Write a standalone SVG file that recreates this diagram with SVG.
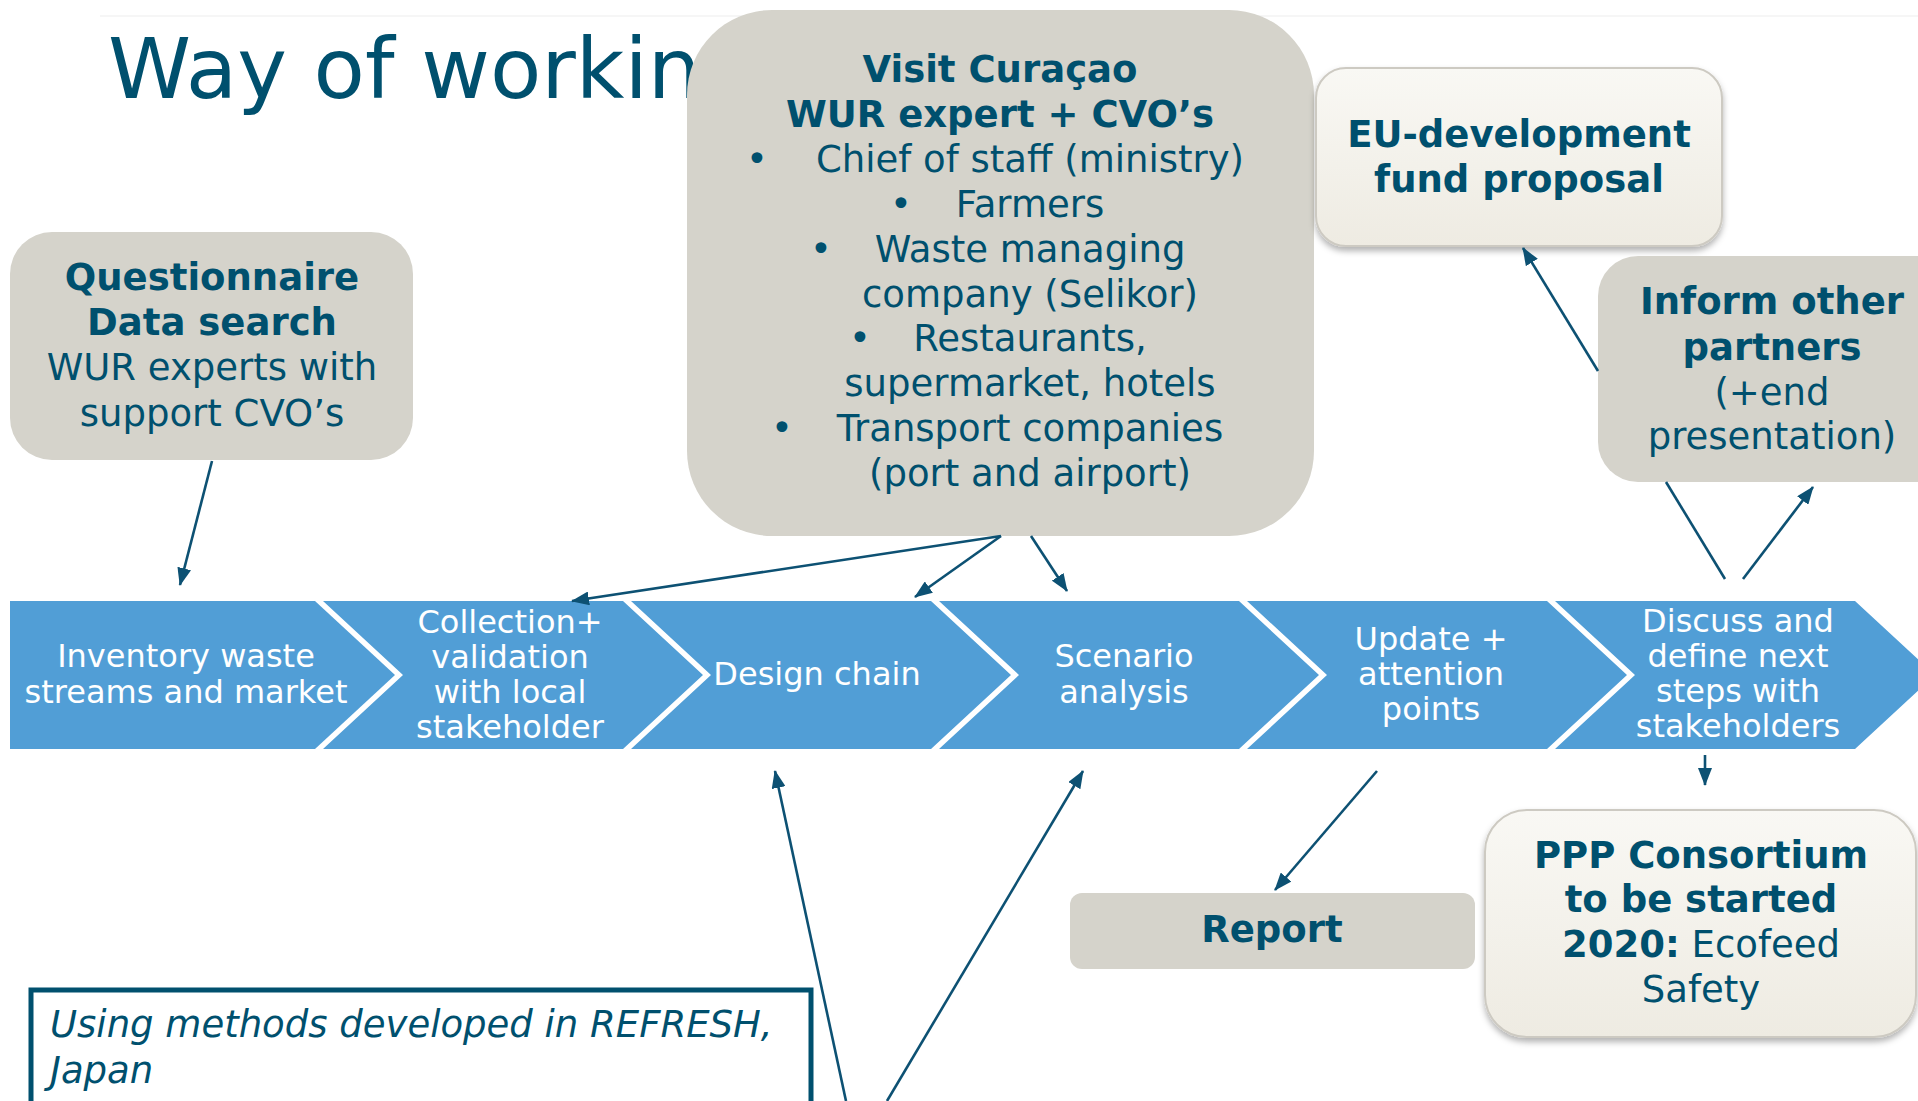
<svg xmlns="http://www.w3.org/2000/svg" width="1918" height="1101" viewBox="0 0 1918 1101">
<style>
  text { font-family: "DejaVu Sans", Verdana, sans-serif; fill: #00506e; }
  .b { font-weight: bold; }
  .t37 { font-size: 37px; }
  .mid { text-anchor: middle; }
  .chev { fill: #519ed6; }
  .ct { font-size: 32px; fill: #ffffff; text-anchor: middle; }
  .gray { fill: #d5d3cb; }
  .cream { fill: url(#cream); stroke: #cdcac2; stroke-width: 2; filter: url(#shadow); }
  .conn { stroke: #0d5173; stroke-width: 2.6; fill: none; }
  .arr { marker-end: url(#ah); }
</style>
<defs>
  <linearGradient id="cream" x1="0" y1="0" x2="0" y2="1">
    <stop offset="0" stop-color="#f9f8f4"/>
    <stop offset="1" stop-color="#eeebe2"/>
  </linearGradient>
  <filter id="shadow" x="-10%" y="-10%" width="120%" height="130%">
    <feDropShadow dx="0" dy="4" stdDeviation="3" flood-color="#000000" flood-opacity="0.3"/>
  </filter>
  <marker id="ah" markerUnits="userSpaceOnUse" markerWidth="18" markerHeight="14" refX="17" refY="7" orient="auto">
    <path d="M0,0 L18,7 L0,14 z" fill="#0d5173"/>
  </marker>
</defs>
<rect width="1918" height="1101" fill="#ffffff"/>
<line x1="100" y1="16" x2="1918" y2="16" stroke="#f3f3f3" stroke-width="1.5"/>
<text x="108" y="98" style="font-size:84px">Way of working</text>

<g id="questionnaire">
  <rect class="gray" x="10" y="232" width="403" height="228" rx="42"/>
  <text class="b t37 mid" x="212" y="290">Questionnaire</text>
  <text class="b t37 mid" x="212" y="335">Data search</text>
  <text class="t37 mid" x="212" y="380">WUR experts with</text>
  <text class="t37 mid" x="212" y="426">support CVO’s</text>
</g>

<g id="visit">
  <rect class="gray" x="687" y="10" width="627" height="526" rx="85"/>
  <text class="b t37 mid" x="1000" y="82">Visit Curaçao</text>
  <text class="b t37 mid" x="1000" y="127">WUR expert + CVO’s</text>
  <text class="t37 mid" x="757" y="172">•</text>
  <text class="t37 mid" x="1030" y="172">Chief of staff (ministry)</text>
  <text class="t37 mid" x="901" y="217">•</text>
  <text class="t37 mid" x="1030" y="217">Farmers</text>
  <text class="t37 mid" x="821" y="262">•</text>
  <text class="t37 mid" x="1030" y="262">Waste managing</text>
  <text class="t37 mid" x="1030" y="307">company (Selikor)</text>
  <text class="t37 mid" x="860" y="351">•</text>
  <text class="t37 mid" x="1030" y="351">Restaurants,</text>
  <text class="t37 mid" x="1030" y="396">supermarket, hotels</text>
  <text class="t37 mid" x="782" y="441">•</text>
  <text class="t37 mid" x="1030" y="441">Transport companies</text>
  <text class="t37 mid" x="1030" y="486">(port and airport)</text>
</g>

<g id="eu-fund">
  <rect class="cream" x="1316" y="68" width="406" height="178" rx="30"/>
  <text class="b t37 mid" x="1519" y="147">EU-development</text>
  <text class="b t37 mid" x="1519" y="192">fund proposal</text>
</g>

<g id="inform">
  <rect class="gray" x="1598" y="256" width="400" height="226" rx="40"/>
  <text class="b t37 mid" x="1772" y="314">Inform other</text>
  <text class="b t37 mid" x="1772" y="360">partners</text>
  <text class="t37 mid" x="1772" y="405">(+end</text>
  <text class="t37 mid" x="1772" y="449">presentation)</text>
</g>

<g id="step1">
  <polygon class="chev" points="10,601 315,601 395,675 315,749 10,749"/>
  <text class="ct" x="186" y="667">Inventory waste</text>
  <text class="ct" x="186" y="703">streams and market</text>
</g>
<g id="step2">
  <polygon class="chev" points="323,601 623,601 703,675 623,749 323,749 403,675"/>
  <text class="ct" x="510" y="633">Collection+</text>
  <text class="ct" x="510" y="668">validation</text>
  <text class="ct" x="510" y="703">with local</text>
  <text class="ct" x="510" y="738">stakeholder</text>
</g>
<g id="step3">
  <polygon class="chev" points="631,601 931,601 1011,675 931,749 631,749 711,675"/>
  <text class="ct" x="817" y="685">Design chain</text>
</g>
<g id="step4">
  <polygon class="chev" points="939,601 1239,601 1319,675 1239,749 939,749 1019,675"/>
  <text class="ct" x="1124" y="667">Scenario</text>
  <text class="ct" x="1124" y="703">analysis</text>
</g>
<g id="step5">
  <polygon class="chev" points="1247,601 1547,601 1627,675 1547,749 1247,749 1327,675"/>
  <text class="ct" x="1431" y="650">Update +</text>
  <text class="ct" x="1431" y="685">attention</text>
  <text class="ct" x="1431" y="720">points</text>
</g>
<g id="step6">
  <polygon class="chev" points="1555,601 1855,601 1935,675 1855,749 1555,749 1635,675"/>
  <text class="ct" x="1738" y="632">Discuss and</text>
  <text class="ct" x="1738" y="667">define next</text>
  <text class="ct" x="1738" y="702">steps with</text>
  <text class="ct" x="1738" y="737">stakeholders</text>
</g>

<g id="report">
  <rect class="gray" x="1070" y="893" width="405" height="76" rx="12"/>
  <text class="b t37 mid" x="1272" y="942">Report</text>
</g>

<g id="ppp">
  <rect class="cream" x="1485" y="810" width="431" height="227" rx="42"/>
  <text class="b t37 mid" x="1701" y="868">PPP Consortium</text>
  <text class="b t37 mid" x="1701" y="912">to be started</text>
  <text class="t37 mid" x="1701" y="957"><tspan class="b">2020:</tspan> Ecofeed</text>
  <text class="t37 mid" x="1701" y="1002">Safety</text>
</g>

<g id="methods">
  <rect x="31" y="990" width="780" height="130" fill="#ffffff" stroke="#00506e" stroke-width="5"/>
  <text class="t37" x="50" y="1037" font-style="italic">Using methods developed in REFRESH,</text>
  <text class="t37" x="50" y="1083" font-style="italic">Japan</text>
</g>

<g id="connectors">
  <line class="conn arr" x1="212" y1="461" x2="180" y2="585"/>
  <line class="conn arr" x1="1001" y1="536" x2="572" y2="601"/>
  <line class="conn arr" x1="1001" y1="536" x2="915" y2="597"/>
  <line class="conn arr" x1="1031" y1="536" x2="1067" y2="591"/>
  <line class="conn" x1="1725" y1="579" x2="1666" y2="482"/>
  <line class="conn arr" x1="1598" y1="371" x2="1523" y2="248"/>
  <line class="conn arr" x1="1743" y1="579" x2="1813" y2="487"/>
  <line class="conn arr" x1="1705" y1="755" x2="1705" y2="785"/>
  <line class="conn arr" x1="1377" y1="771" x2="1275" y2="890"/>
  <line class="conn arr" x1="846" y1="1101" x2="775" y2="771"/>
  <line class="conn arr" x1="887" y1="1101" x2="1083" y2="771"/>
</g>
</svg>
